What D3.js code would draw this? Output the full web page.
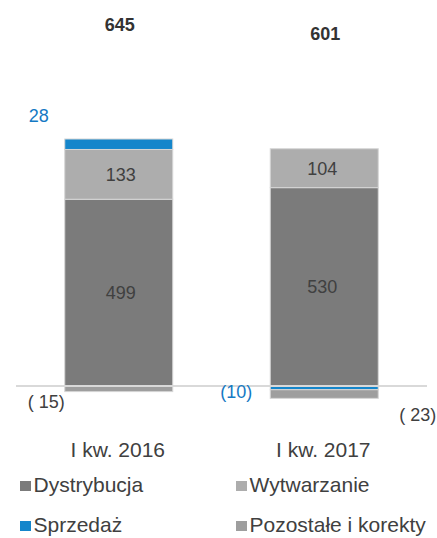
<!DOCTYPE html>
<html>
<head>
<meta charset="utf-8">
<script src="https://cdn.jsdelivr.net/npm/d3@7/dist/d3.min.js"></script>
<style>
  html, body { margin: 0; padding: 0; background: #fff; }
  svg { display: block; font-family: "Liberation Sans", Arial, Helvetica, sans-serif; }
</style>
</head>
<body>
<svg id="chart" width="437" height="538"></svg>
<script>
const categories = ["I kw. 2016", "I kw. 2017"];
const seriesNames = ["Dystrybucja", "Wytwarzanie", "Sprzedaż", "Pozostałe i korekty"];
const dystrybucja = [499, 530];
const wytwarzanie = [133, 104];
const sprzedaz = [28, -10];
const pozostale = [-15, -23];
const totals = [645, 601];
const labelTexts = {
  "Dystrybucja": ["499", "530"],
  "Wytwarzanie": ["133", "104"],
  "Sprzedaż": ["28", "(10)"],
  "Pozostałe i korekty": ["( 15)", "( 23)"]
};
const colors = {
  "Dystrybucja": "#7b7b7b",
  "Wytwarzanie": "#adadad",
  "Sprzedaż": "#1586cb",
  "Pozostałe i korekty": "#9e9e9e"
};
const values = {
  "Dystrybucja": dystrybucja,
  "Wytwarzanie": wytwarzanie,
  "Sprzedaż": sprzedaz,
  "Pozostałe i korekty": pozostale
};

const svg = d3.select("#chart");
const x = d3.scaleBand().domain(categories).range([16, 427]).padding(0);
const barW = 108;
const y = d3.scaleLinear().domain([0, 660]).range([386, 139]);

const segs = [];
const posTop = [];
categories.forEach((c, i) => {
  let pos = 0, neg = 0;
  seriesNames.forEach(s => {
    const v = values[s][i];
    let y0, y1;
    if (v >= 0) { y0 = pos; y1 = pos + v; pos = y1; }
    else { y0 = neg; y1 = neg + v; neg = y1; }
    segs.push({ cat: c, i, series: s, v, y0, y1 });
  });
  posTop.push(pos);
});

const g = svg.append("g");
g.selectAll("rect.seg").data(segs).enter().append("rect")
  .attr("class", "seg")
  .attr("x", d => x(d.cat) + x.bandwidth() / 2 - barW / 2)
  .attr("width", barW)
  .attr("y", d => y(Math.max(d.y0, d.y1)))
  .attr("height", d => Math.abs(y(d.y0) - y(d.y1)))
  .attr("fill", d => colors[d.series])
  .attr("stroke", "#d6d6d6")
  .attr("stroke-width", 1);

g.append("line")
  .attr("x1", 16).attr("x2", 427)
  .attr("y1", y(0)).attr("y2", y(0))
  .attr("stroke", "#d9d9d9").attr("stroke-width", 2);

const lab = svg.append("g").attr("font-size", 18);
segs.forEach(d => {
  const cx = x(d.cat) + x.bandwidth() / 2;
  const left = cx - barW / 2, right = cx + barW / 2;
  const txt = labelTexts[d.series][d.i];
  let tx, ty, anchor = "middle", fill = "#404040";
  if (d.series === "Dystrybucja" || d.series === "Wytwarzanie") {
    tx = cx + (d.i === 0 ? 2 : -2);
    ty = (y(d.y0) + y(d.y1)) / 2 + 6.5;
  } else if (d.series === "Sprzedaż") {
    fill = "#1479c4";
    if (d.v >= 0) { tx = left - 26; ty = y(d.y1) - 17; }
    else { tx = left - 18; ty = y(0) + 11.5; anchor = "end"; }
  } else {
    if (d.i === 0) { tx = left; ty = y(d.y1) + 16.5; anchor = "end"; }
    else { tx = right + 21; ty = y(d.y1) + 22.5; anchor = "start"; }
  }
  lab.append("text").attr("x", tx).attr("y", ty)
    .attr("text-anchor", anchor).attr("fill", fill).text(txt);
});

svg.append("g").selectAll("text").data(categories).enter().append("text")
  .attr("x", c => x(c) + x.bandwidth() / 2 + 1)
  .attr("y", (c, i) => y(posTop[i]) - 108.5)
  .attr("text-anchor", "middle")
  .attr("font-size", 18).attr("font-weight", "bold").attr("fill", "#333")
  .text((c, i) => totals[i]);

svg.append("g").selectAll("text").data(categories).enter().append("text")
  .attr("x", c => x(c) + x.bandwidth() / 2 - 1)
  .attr("y", 457)
  .attr("text-anchor", "middle")
  .attr("font-size", 21).attr("fill", "#404040")
  .text(c => c);

const legendPos = [[20, 492], [236, 492], [20, 532], [236, 532]];
const leg = svg.append("g").selectAll("g").data(seriesNames).enter().append("g")
  .attr("transform", (s, i) => `translate(${legendPos[i][0]},${legendPos[i][1]})`);
leg.append("rect").attr("x", 0).attr("y", -11).attr("width", 11).attr("height", 10)
  .attr("fill", s => colors[s]);
leg.append("text").attr("x", 13.5).attr("y", 0)
  .attr("font-size", 21).attr("fill", "#404040").text(s => s);
</script>
</body>
</html>
